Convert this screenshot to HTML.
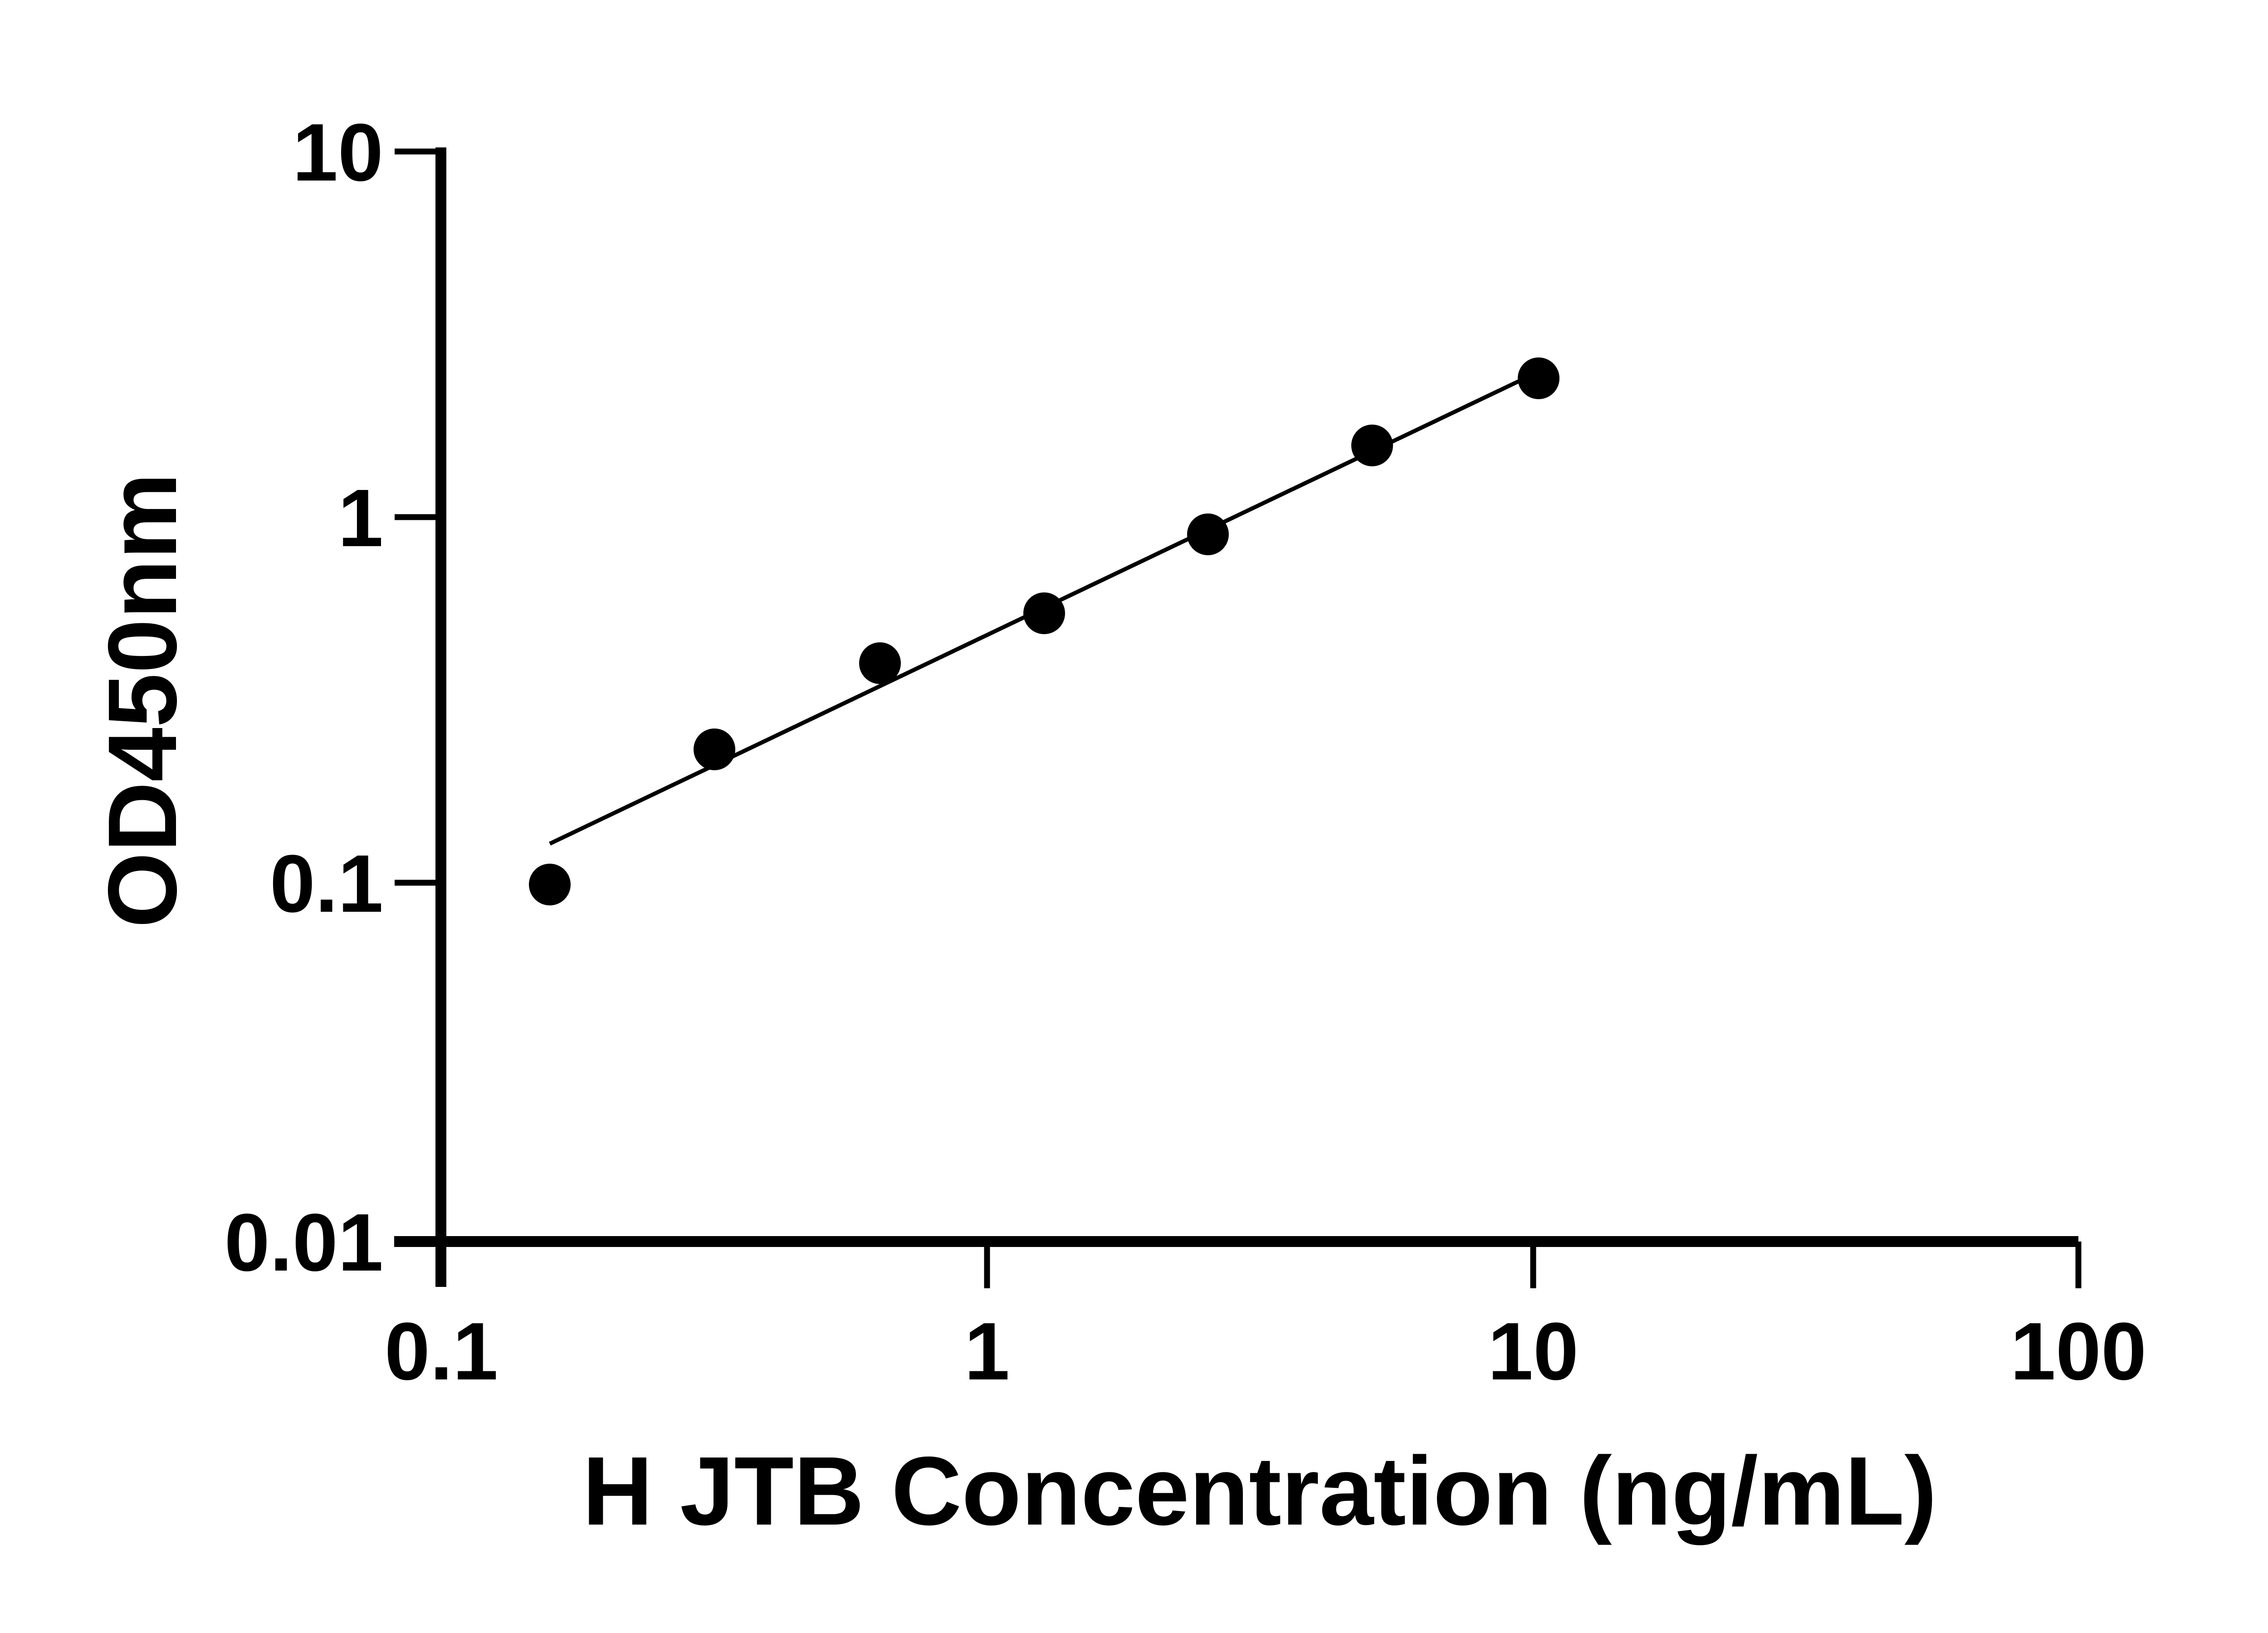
<!DOCTYPE html>
<html><head><meta charset="utf-8"><style>
html,body{margin:0;padding:0;background:#fff;}
svg{display:block;}
text{font-family:"Liberation Sans",sans-serif;font-weight:bold;fill:#000;}
</style></head><body>
<svg width="5124" height="3600" viewBox="0 0 5124 3600" xmlns="http://www.w3.org/2000/svg">
<g stroke="#000" fill="none">
<line x1="972" y1="325" x2="972" y2="2837" stroke-width="24"/>
<line x1="869" y1="2737" x2="4582" y2="2737" stroke-width="24"/>
<line x1="870" y1="334" x2="972" y2="334" stroke-width="13"/>
<line x1="870" y1="1140" x2="972" y2="1140" stroke-width="13"/>
<line x1="870" y1="1946" x2="972" y2="1946" stroke-width="13"/>
<line x1="870" y1="2737" x2="972" y2="2737" stroke-width="13"/>
<line x1="2176" y1="2737" x2="2176" y2="2840" stroke-width="13"/>
<line x1="3380" y1="2737" x2="3380" y2="2840" stroke-width="13"/>
<line x1="4582" y1="2737" x2="4582" y2="2840" stroke-width="13"/>
<line x1="1212" y1="1860" x2="3370" y2="830" stroke-width="9"/>
</g>
<g fill="#000">
<circle cx="1212" cy="1950" r="46"/>
<circle cx="1575" cy="1652" r="46"/>
<circle cx="1940" cy="1462" r="46"/>
<circle cx="2302" cy="1352" r="46"/>
<circle cx="2663" cy="1178" r="46"/>
<circle cx="3025" cy="982" r="46"/>
<circle cx="3392" cy="834" r="46"/>
</g>
<g font-size="180" text-anchor="end">
<text x="845" y="398">10</text>
<text x="845" y="1204">1</text>
<text x="845" y="2010">0.1</text>
<text x="845" y="2801">0.01</text>
</g>
<g font-size="180" text-anchor="middle">
<text x="973" y="3041">0.1</text>
<text x="2176" y="3041">1</text>
<text x="3380" y="3041">10</text>
<text x="4582" y="3041">100</text>
</g>
<text x="2777" y="3361" font-size="215" text-anchor="middle">H JTB Concentration (ng/mL)</text>
<text x="0" y="0" font-size="215" text-anchor="middle" transform="translate(388,1544) rotate(-90)">OD450nm</text>
</svg>
</body></html>
